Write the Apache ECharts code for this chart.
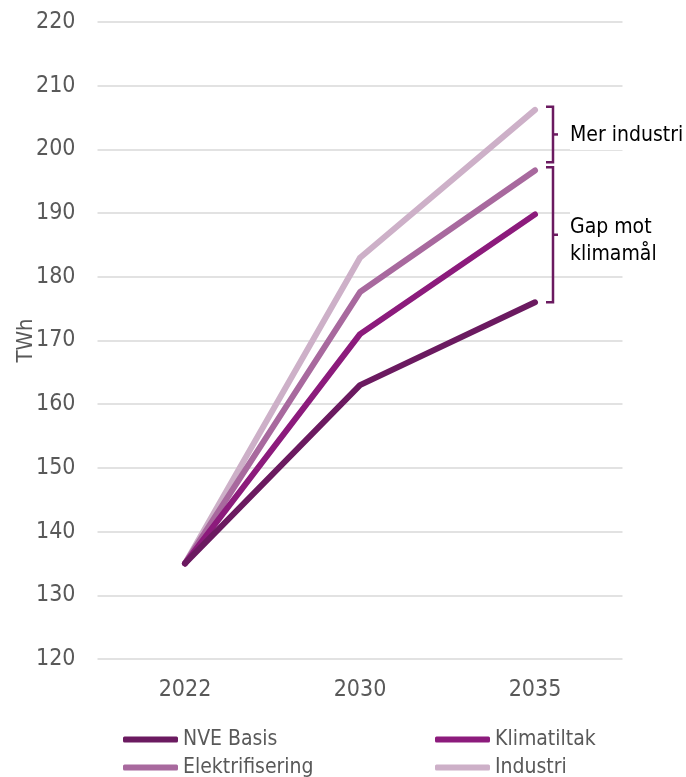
<!DOCTYPE html>
<html>
<head>
<meta charset="utf-8">
<script src="https://cdn.jsdelivr.net/npm/echarts@6/dist/echarts.min.js"></script>
<style>
  html, body { margin: 0; padding: 0; background: #fff; }
  #chart { width: 686px; height: 777px; }
</style>
</head>
<body>
<div id="chart"></div>
<script>
var years = ['2022', '2030', '2035'];
var nveBasis = [135, 163, 176];
var klimatiltak = [135, 171, 189.8];
var elektrifisering = [135, 177.6, 196.7];
var industri = [135, 183, 206.2];
var yTicks = [120, 220, 10];

var font = '"DejaVu Sans Condensed", "DejaVu Sans", sans-serif';
var dark = '#6b1a60';

function line(name, data, color) {
  return {
    name: name,
    type: 'line',
    data: data,
    symbol: 'none',
    lineStyle: { width: 6, color: color, cap: 'round', join: 'round' },
    itemStyle: { color: color }
  };
}

function legendItem(name, left, top) {
  return {
    left: left, top: top, padding: 0,
    itemWidth: 55, itemHeight: 6, icon: 'roundRect', itemGap: 0,
    textStyle: { color: '#595959', fontSize: 21, fontFamily: font },
    data: [name]
  };
}

var myChart = echarts.init(document.getElementById('chart'));

var option = {
  animation: false,
  grid: { left: 97.5, right: 63.5, top: 22, bottom: 118, outerBoundsMode: 'none', containLabel: false },
  xAxis: {
    type: 'category',
    data: years,
    axisLine: { show: false },
    axisTick: { show: false },
    axisLabel: { color: '#595959', fontSize: 23, fontFamily: font, margin: 20 }
  },
  yAxis: {
    type: 'value',
    min: yTicks[0],
    max: yTicks[1],
    interval: yTicks[2],
    name: 'TWh',
    nameLocation: 'middle',
    nameGap: 60,
    nameMoveOverlap: false,
    nameRotate: 90,
    nameTextStyle: { color: '#595959', fontSize: 22, fontFamily: font },
    axisLine: { show: false },
    axisTick: { show: false },
    axisLabel: { color: '#595959', fontSize: 23, fontFamily: font, margin: 22 },
    splitLine: { lineStyle: { color: '#d9d9d9', width: 1.5 } }
  },
  legend: [
    legendItem('NVE Basis', 123, 729),
    legendItem('Elektrifisering', 123, 757),
    legendItem('Klimatiltak', 435, 729),
    legendItem('Industri', 435, 757)
  ],
  series: [
    line('Industri', industri, '#cdb0c8'),
    line('Elektrifisering', elektrifisering, '#a8699e'),
    line('Klimatiltak', klimatiltak, '#8c1b7c'),
    line('NVE Basis', nveBasis, '#6b1a60')
  ]
};
myChart.setOption(option);

// brackets on the right, placed from the 2035 values
function yPx(v) { return myChart.convertToPixel({ yAxisIndex: 0 }, v); }
var bx = 553;
function bracket(top, bottom) {
  var mid = (top + bottom) / 2;
  return [
    { type: 'polyline', shape: { points: [[bx - 7, top], [bx, top], [bx, bottom], [bx - 7, bottom]] },
      style: { stroke: dark, lineWidth: 2.5, fill: null } },
    { type: 'line', shape: { x1: bx, y1: mid, x2: bx + 5, y2: mid },
      style: { stroke: dark, lineWidth: 2.5 } }
  ];
}
var b1 = bracket(yPx(industri[2] + 0.5), yPx(elektrifisering[2] + 1.3));
var b2 = bracket(yPx(elektrifisering[2] + 0.5), yPx(nveBasis[2]));
var t1 = (yPx(industri[2] + 0.5) + yPx(elektrifisering[2] + 1.3)) / 2;
var t2 = (yPx(elektrifisering[2] + 0.5) + yPx(nveBasis[2])) / 2;

myChart.setOption({
  graphic: b1.concat(b2).concat([
    { type: 'text', x: 570, y: t1 + 1, style: {
      text: 'Mer industri', fill: '#000', font: '21px ' + font,
      verticalAlign: 'middle', backgroundColor: '#fff', padding: [4, 6, 4, 0] } },
    { type: 'text', x: 570, y: t2 + 6, style: {
      text: 'Gap mot\nklimamål', fill: '#000', font: '21px ' + font, lineHeight: 27,
      verticalAlign: 'middle', backgroundColor: '#fff', padding: [4, 6, 4, 0] } }
  ])
});
</script>
</body>
</html>
